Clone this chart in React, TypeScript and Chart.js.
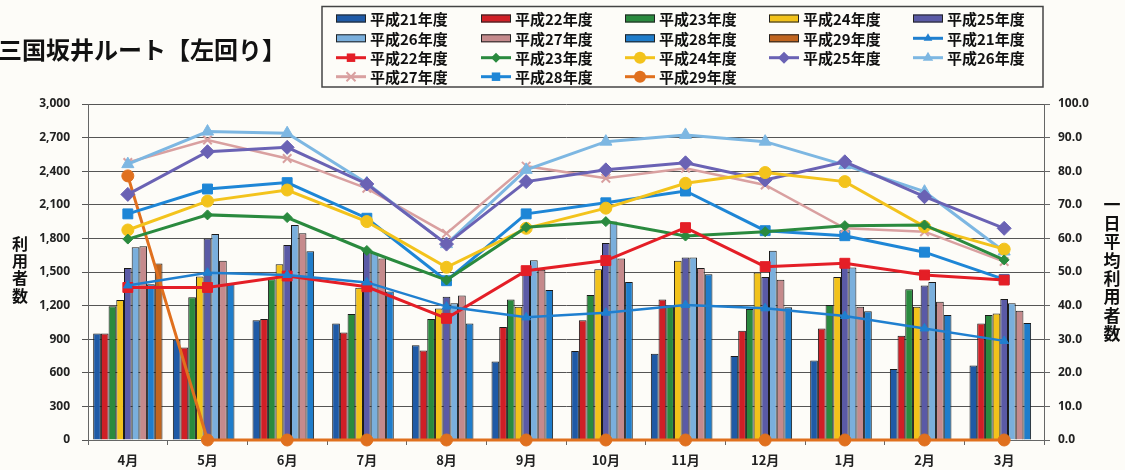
import React, { useEffect, useRef } from 'react';
import { Chart, registerables } from 'chart.js';

Chart.register(...registerables);

const TITLE = '三国坂井ルート【左回り】';
const months = ['4月', '5月', '6月', '7月', '8月', '9月', '10月', '11月', '12月', '1月', '2月', '3月'];
const fiscalYears = ['平成21年度', '平成22年度', '平成23年度', '平成24年度', '平成25年度', '平成26年度', '平成27年度', '平成28年度', '平成29年度'];
const leftTitle = ['利', '用', '者', '数'];
const rightTitle = ['一', '日', '平', '均', '利', '用', '者', '数'];

// 利用者数 (bars, left axis)
const usersH21 = [950, 895, 1070, 1040, 845, 700, 795, 770, 750, 710, 635, 665];
const usersH22 = [950, 825, 1080, 960, 800, 1010, 1070, 1255, 975, 995, 930, 1040];
const usersH23 = [1195, 1275, 1435, 1125, 1080, 1255, 1295, 1190, 1170, 1205, 1345, 1115];
const usersH24 = [1250, 1460, 1570, 1360, 1175, 1190, 1525, 1600, 1495, 1455, 1190, 1130];
const usersH25 = [1535, 1800, 1740, 1700, 1280, 1505, 1760, 1630, 1455, 1560, 1380, 1260];
const usersH26 = [1720, 1840, 1920, 1670, 1220, 1605, 1950, 1630, 1690, 1540, 1410, 1220];
const usersH27 = [1730, 1600, 1845, 1620, 1290, 1520, 1620, 1535, 1430, 1190, 1235, 1155];
const usersH28 = [1390, 1400, 1685, 1325, 1040, 1340, 1410, 1480, 1185, 1150, 1115, 1045];
const usersH29 = [1575, null, null, null, null, null, null, null, null, null, null, null];

// 一日平均利用者数 (lines, right axis)
const avgH21 = [46.0, 49.8, 49.1, 46.9, 39.7, 36.5, 37.9, 40.2, 39.2, 36.9, 33.2, 29.5];
const avgH22 = [45.4, 45.4, 48.8, 45.6, 36.2, 50.4, 53.4, 63.2, 51.6, 52.6, 49.1, 47.6];
const avgH23 = [59.8, 67.0, 66.2, 56.4, 47.6, 63.3, 65.0, 60.7, 62.0, 63.8, 64.0, 53.6];
const avgH24 = [62.5, 71.1, 74.4, 65.0, 51.4, 63.0, 69.0, 76.4, 79.6, 76.9, 63.5, 56.8];
const avgH25 = [73.1, 85.8, 87.1, 76.2, 58.3, 76.9, 80.4, 82.5, 77.4, 82.8, 72.4, 63.0];
const avgH26 = [82.1, 91.8, 91.3, 76.4, 58.3, 80.4, 88.8, 90.8, 88.8, 81.8, 73.9, 56.1];
const avgH27 = [82.6, 89.3, 83.8, 74.9, 61.5, 81.5, 77.9, 80.9, 75.9, 63.0, 62.0, 53.1];
const avgH28 = [67.3, 74.7, 76.6, 66.0, 47.4, 67.3, 70.6, 74.1, 62.3, 60.8, 55.9, 47.8];
const avgH29 = [78.6, 0, 0, 0, 0, 0, 0, 0, 0, 0, 0, 0];

const barSeries = [usersH21, usersH22, usersH23, usersH24, usersH25, usersH26, usersH27, usersH28, usersH29];
const lineSeries = [avgH21, avgH22, avgH23, avgH24, avgH25, avgH26, avgH27, avgH28, avgH29];

const barColors = ['#1f5aa6', '#d01f26', '#2a8a3e', '#f2c21b', '#5a5aa6', '#7aafdc', '#c58a8c', '#1f7dcb', '#c0651f'];
const lineColors = ['#1f7fcf', '#e41e26', '#2a8a3e', '#f3c31c', '#6a62b4', '#7db7e2', '#d9a0a0', '#1e86d6', '#e0701e'];
const lineMarkers = ['triangle', 'rect', 'rectRot', 'circle', 'rectRot', 'triangle', 'crossRot', 'rect', 'circle'];
const markerRadius = [5, 7, 5, 6, 7, 7, 6, 7, 6];
const lineWidths = [2.5, 3, 3, 3, 3, 3, 2.5, 3, 3];

const JP = '"Noto Sans CJK JP", "Noto Sans", sans-serif';
const NUM = '"Open Sans", "Noto Sans", sans-serif';

function drawMarker(ctx: CanvasRenderingContext2D, style: string, x: number, y: number, r: number, color: string) {
  ctx.save();
  ctx.fillStyle = color;
  ctx.strokeStyle = color;
  ctx.lineWidth = 2;
  ctx.beginPath();
  if (style === 'circle') {
    ctx.arc(x, y, r, 0, Math.PI * 2);
    ctx.fill();
  } else if (style === 'rect') {
    const s = r * Math.SQRT1_2;
    ctx.rect(x - s, y - s, 2 * s, 2 * s);
    ctx.fill();
  } else if (style === 'rectRot') {
    ctx.moveTo(x, y - r);
    ctx.lineTo(x + r, y);
    ctx.lineTo(x, y + r);
    ctx.lineTo(x - r, y);
    ctx.closePath();
    ctx.fill();
  } else if (style === 'triangle') {
    ctx.moveTo(x, y - r);
    ctx.lineTo(x + r * 0.87, y + r * 0.5);
    ctx.lineTo(x - r * 0.87, y + r * 0.5);
    ctx.closePath();
    ctx.fill();
  } else if (style === 'crossRot') {
    const s = r * 0.75;
    ctx.moveTo(x - s, y - s);
    ctx.lineTo(x + s, y + s);
    ctx.moveTo(x + s, y - s);
    ctx.lineTo(x - s, y + s);
    ctx.stroke();
  }
  ctx.restore();
}

const decorPlugin = {
  id: 'decor',
  afterDraw(chart: any) {
    const ctx: CanvasRenderingContext2D = chart.ctx;
    ctx.save();
    // title
    ctx.font = `bold 24px ${JP}`;
    ctx.fillStyle = '#111';
    ctx.textBaseline = 'middle';
    ctx.textAlign = 'left';
    ctx.fillText(TITLE, -2, 50);

    // legend box
    ctx.strokeStyle = '#444';
    ctx.lineWidth = 1.5;
    ctx.strokeRect(322, 6.5, 721, 80.5);
    const colX = [336, 481, 625, 769, 913];
    const rowY = [18.5, 38.3, 57.7, 76.7];
    ctx.font = `bold 15px ${JP}`;
    chart.data.datasets.forEach((ds: any, i: number) => {
      const col = i % 5;
      const row = Math.floor(i / 5);
      const x = colX[col];
      const y = rowY[row];
      if (ds.type === 'line') {
        ctx.strokeStyle = ds.borderColor;
        ctx.lineWidth = 3;
        ctx.beginPath();
        ctx.moveTo(x, y);
        ctx.lineTo(x + 30, y);
        ctx.stroke();
        drawMarker(ctx, ds.pointStyle, x + 15, y, Math.min(ds.pointRadius, 6), ds.borderColor);
      } else {
        ctx.fillStyle = ds.backgroundColor;
        ctx.fillRect(x, y - 4, 30, 8);
        ctx.strokeStyle = '#222';
        ctx.lineWidth = 1;
        ctx.strokeRect(x + 0.5, y - 3.5, 29, 7);
      }
      ctx.fillStyle = '#111';
      ctx.textAlign = 'left';
      ctx.textBaseline = 'middle';
      ctx.fillText(ds.label, x + 34, y + 1);
    });

    // axis titles (stacked vertical text)
    ctx.font = `bold 16px ${JP}`;
    ctx.textAlign = 'center';
    ctx.fillStyle = '#111';
    leftTitle.forEach((c, i) => ctx.fillText(c, 20, 244 + i * 17.2));
    ctx.font = `bold 17px ${JP}`;
    rightTitle.forEach((c, i) => ctx.fillText(c, 1112, 205 + i * 18.4));
    ctx.restore();
  },
};

export default function App() {
  const canvasRef = useRef<HTMLCanvasElement | null>(null);

  useEffect(() => {
    document.body.style.margin = '0';
    const canvas = canvasRef.current;
    if (!canvas) return;

    const barDatasets = fiscalYears.map((label, i) => ({
      type: 'bar' as const,
      label,
      data: barSeries[i],
      backgroundColor: barColors[i],
      borderColor: '#1a1a1a',
      borderWidth: 1,
      yAxisID: 'y',
      order: 10,
      barPercentage: 1,
      categoryPercentage: 0.87,
    }));
    const lineDatasets = fiscalYears.map((label, i) => ({
      type: 'line' as const,
      label,
      data: lineSeries[i],
      borderColor: lineColors[i],
      backgroundColor: lineColors[i],
      borderWidth: lineWidths[i],
      pointStyle: lineMarkers[i],
      pointRadius: markerRadius[i],
      pointBorderWidth: lineMarkers[i] === 'crossRot' ? 2 : 1,
      pointBackgroundColor: lineColors[i],
      pointBorderColor: lineColors[i],
      yAxisID: 'y1',
      order: 1,
      tension: 0,
      clip: false as any,
    }));

    const chart = new Chart(canvas, {
      type: 'bar',
      data: { labels: months, datasets: [...barDatasets, ...lineDatasets] as any },
      options: {
        responsive: false,
        animation: false,
        devicePixelRatio: 1,
        layout: { padding: { top: 104, left: 0, right: 0, bottom: 0 } },
        plugins: { legend: { display: false }, tooltip: { enabled: false }, title: { display: false } },
        scales: {
          x: {
            offset: true,
            grid: { display: true, drawOnChartArea: false, drawTicks: true, tickLength: 5, color: '#666', offset: true },
            border: { display: true, color: '#666', width: 1 },
            ticks: { color: '#222', font: { family: JP, size: 13, weight: 'bold' }, padding: 7 },
            afterFit: (s: any) => { s.height = 30; },
          },
          y: {
            position: 'left',
            min: 0,
            max: 3000,
            ticks: {
              stepSize: 300,
              color: '#222',
              font: { family: NUM, size: 12, weight: 'bold' },
              padding: 12,
              callback: (v: any) => Number(v).toLocaleString('en-US'),
            },
            grid: { color: '#555', lineWidth: 1, drawTicks: true, tickLength: 6 },
            border: { display: true, color: '#666', width: 1 },
            afterFit: (s: any) => { s.width = 88; },
          },
          y1: {
            position: 'right',
            min: 0,
            max: 100,
            ticks: {
              stepSize: 10,
              color: '#222',
              font: { family: NUM, size: 12, weight: 'bold' },
              padding: 8,
              callback: (v: any) => Number(v).toFixed(1),
            },
            grid: { drawOnChartArea: false, drawTicks: true, tickLength: 6, color: '#666' },
            border: { display: true, color: '#666', width: 1 },
            afterFit: (s: any) => { s.width = 81; },
          },
        },
      } as any,
      plugins: [decorPlugin],
    });

    return () => chart.destroy();
  }, []);

  return (
    <div style={{ width: 1125, height: 470, background: '#fdfcf8' }}>
      <canvas ref={canvasRef} width={1125} height={470} style={{ display: 'block', width: 1125, height: 470 }} />
    </div>
  );
}
